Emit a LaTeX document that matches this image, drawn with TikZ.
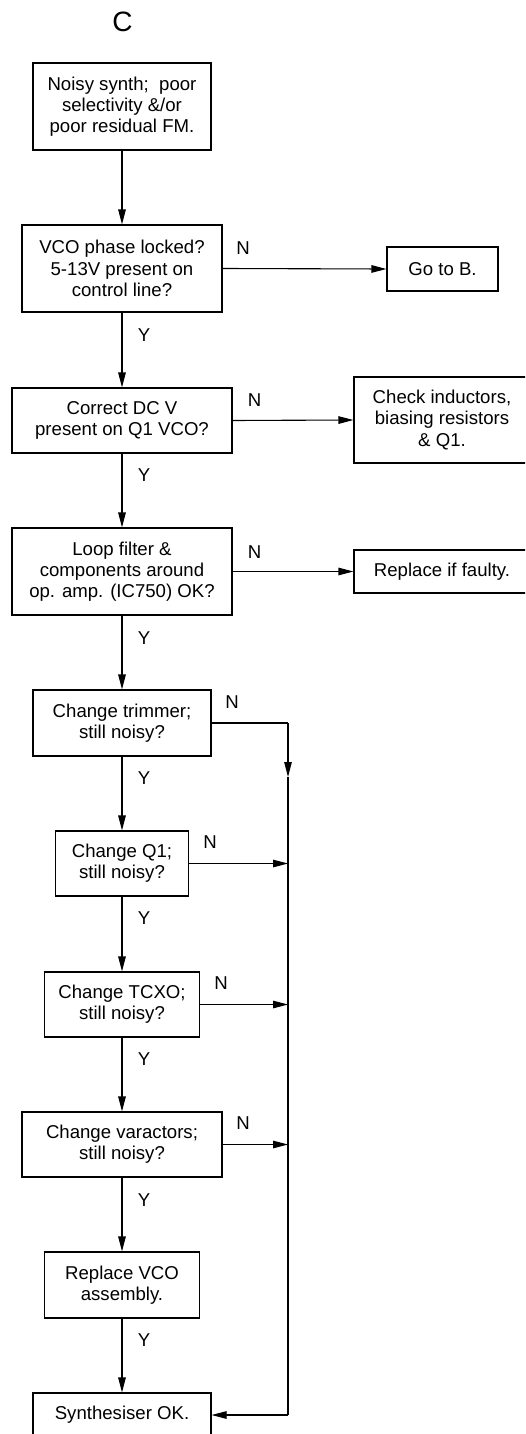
\documentclass[tikz,border=0pt]{standalone}
\usepackage{fontspec}
\setmainfont{Liberation Sans}
\usetikzlibrary{arrows.meta}
\begin{document}
\begin{tikzpicture}[x=1pt,y=-1pt,
  every node/.style={font=\fontsize{18.6}{21.3}\selectfont},
  box/.style={draw, line width=1.1pt, align=center, inner sep=0pt},
  lbl/.style={inner sep=0pt},
  conn/.style={line width=1.1pt},
  arr/.style={line width=1.1pt, -{Triangle[length=15pt,width=7.5pt]}}]
\useasboundingbox (0,0) rectangle (525,1434);
\clip (0,0) rectangle (525,1434);
\fill[white] (0,0) rectangle (525,1434);

\node[lbl, font=\fontsize{28}{30}\selectfont] (title) at (122.5,21.5) {C};

\node[box, minimum width=178pt, minimum height=87pt] (b1) at (122,106.5) {Noisy synth;\ \ poor\\selectivity \&/or\\poor residual FM.};
\node[box, minimum width=200pt, minimum height=87pt] (b2) at (122,268.5) {VCO phase locked?\\5-13V present on\\control line?};
\node[box, minimum width=220pt, minimum height=65pt] (b3) at (122,420.5) {Correct DC V\\present on Q1 VCO?};
\node[box, minimum width=220pt, minimum height=87pt] (b4) at (122,571.5) {Loop filter \&\\components around\\op. amp. (IC750) OK?};
\node[box, minimum width=178pt, minimum height=66pt] (b5) at (122,723) {Change trimmer;\\still noisy?};
\node[box, minimum width=133pt, minimum height=65pt] (b6) at (122,863.5) {Change Q1;\\still noisy?};
\node[box, minimum width=155pt, minimum height=65pt] (b7) at (122,1004.5) {Change TCXO;\\still noisy?};
\node[box, minimum width=200pt, minimum height=65pt] (b8) at (122,1144.5) {Change varactors;\\still noisy?};
\node[box, minimum width=155pt, minimum height=66pt] (b9) at (122,1285) {Replace VCO\\assembly.};
\node[box, minimum width=178pt, minimum height=44pt] (b10) at (122,1415) {Synthesiser OK.};

\node[box, minimum width=111pt, minimum height=44pt] (gob) at (442.5,269) {Go to B.};
\node[box, minimum width=176pt, minimum height=86pt] (chk) at (442,420) {Check inductors,\\biasing resistors\\\& Q1.};
\node[box, minimum width=176pt, minimum height=43pt] (rep) at (442,571.5) {Replace if faulty.};

% vertical flow
\draw[arr] (b1.south) -- (b2.north);
\draw[arr] (b2.south) -- (b3.north);
\draw[arr] (b3.south) -- (b4.north);
\draw[arr] (b4.south) -- (b5.north);
\draw[arr] (b5.south) -- (b6.north);
\draw[arr] (b6.south) -- (b7.north);
\draw[arr] (b7.south) -- (b8.north);
\draw[arr] (b8.south) -- (b9.north);
\draw[arr] (b9.south) -- (b10.north);

% N branches to right
\draw[arr] (b2.east) -- (gob.west);
\draw[arr] (b3.east) -- (chk.west);
\draw[arr] (b4.east) -- (rep.west);

% bus
\coordinate (bt) at (288,723);
\coordinate (ba) at (288,777);
\coordinate (bb) at (288,1415);
\coordinate (j6) at (288,863.5);
\coordinate (j7) at (288,1004.5);
\coordinate (j8) at (288,1144.5);
\draw[conn] (b5.east) -- (bt);
\draw[arr] (bt) -- (ba);
\draw[conn] (ba) -- (bb);
\draw[arr] (bb) -- (b10.east);
\draw[arr] (b6.east) -- (j6);
\draw[arr] (b7.east) -- (j7);
\draw[arr] (b8.east) -- (j8);

% labels
\node[lbl] (n2) at (243,248) {N};
\node[lbl] (n3) at (254.5,400) {N};
\node[lbl] (n4) at (254.5,552) {N};
\node[lbl] (n5) at (232,702) {N};
\node[lbl] (n6) at (210,842.5) {N};
\node[lbl] (n7) at (221,983.5) {N};
\node[lbl] (n8) at (243,1123.5) {N};

\node[lbl] (y2) at (144,335) {Y};
\node[lbl] (y3) at (144,475) {Y};
\node[lbl] (y4) at (144,638.5) {Y};
\node[lbl] (y5) at (144,778) {Y};
\node[lbl] (y6) at (144,918.5) {Y};
\node[lbl] (y7) at (144,1059.5) {Y};
\node[lbl] (y8) at (144,1200) {Y};
\node[lbl] (y9) at (144,1340) {Y};
\end{tikzpicture}
\end{document}
